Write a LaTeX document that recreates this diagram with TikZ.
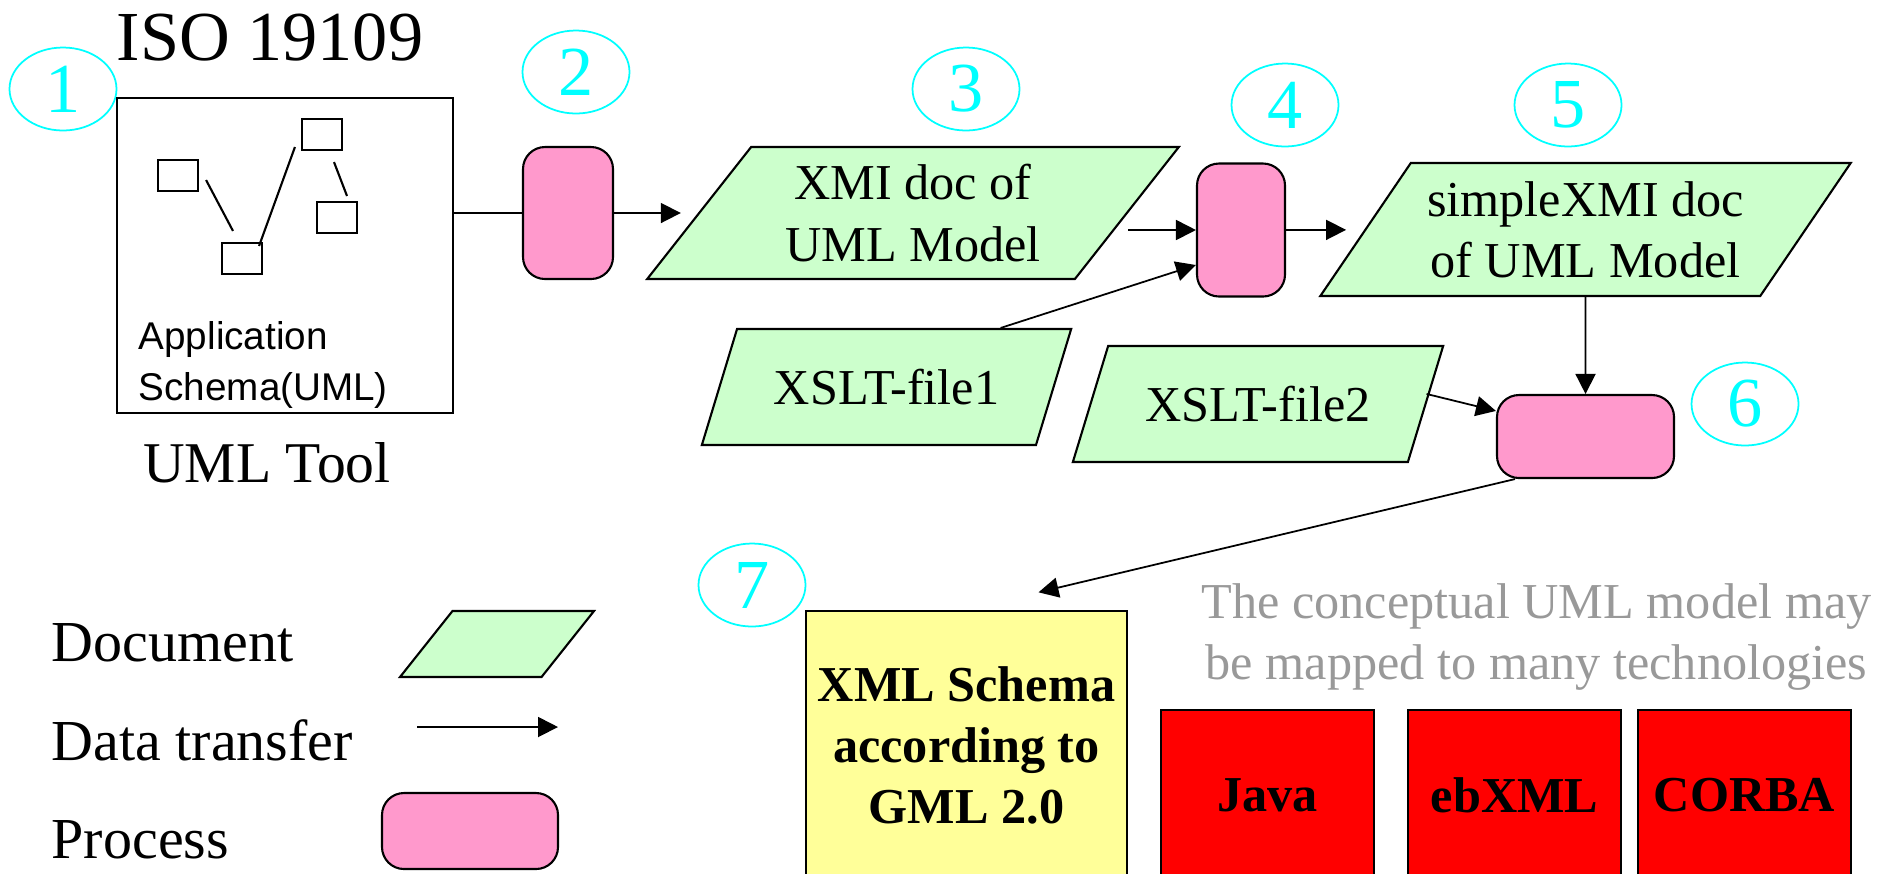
\documentclass[tikz,border=0pt]{standalone}
\usepackage{fontspec}
\setmainfont{Liberation Serif}
\newfontfamily\labelsans{Liberation Sans}
\usetikzlibrary{shapes.geometric,arrows.meta,positioning}
\definecolor{docgreen}{HTML}{CCFFCC}
\definecolor{procpink}{HTML}{FF99CC}
\definecolor{gmlyellow}{HTML}{FFFF99}
\definecolor{techred}{HTML}{FF0000}
\definecolor{numcyan}{HTML}{00FFFF}
\definecolor{notegrey}{HTML}{999999}

\begin{document}
\begin{tikzpicture}[x=0.1mm, y=-0.1mm,
  num/.style = {ellipse, draw=numcyan, text=numcyan, line width=0.5pt, minimum width=10.7mm, minimum height=8.3mm, inner sep=0pt, font=\fontsize{20}{20}\selectfont},
  proc/.style = {draw, rounded corners=2.2mm, fill=procpink, line width=0.6pt},
  doc/.style 2 args = {draw, trapezium, trapezium left angle=#1, trapezium right angle=#2, trapezium stretches=true, fill=docgreen, line width=0.6pt, align=center, inner sep=1pt, font=\fontsize{14.3}{17.4}\selectfont},
  cls/.style = {draw, minimum width=4mm, minimum height=3.1mm, inner sep=0pt, line width=0.6pt},
  tech/.style = {draw, fill=techred, minimum width=21.3mm, minimum height=17mm, font=\bfseries\fontsize{14.3}{17}\selectfont},
  legend/.style = {anchor=base west, inner sep=0pt, font=\fontsize{16.5}{16.5}\selectfont},
  flow/.style = {-{Triangle[length=2mm,width=2mm]}, line width=0.5pt}]
    \useasboundingbox (0,0) rectangle (1890,873);
    \clip (0,0) rectangle (1890,873);
    % UML tool
    \node (iso) [anchor=base, font=\fontsize{20}{20}\selectfont] at (270,60) {ISO 19109};
    \node[num] (n1) at (63,89) {1};
    \node (tool) [draw, minimum width=33.6mm, minimum height=31.5mm, line width=0.7pt] at (285,255.5) {};
    \node[cls] (c1) at (178,175.5) {};
    \node[cls] (c2) at (322,134.5) {};
    \node[cls] (c3) at (337,217.5) {};
    \node[cls] (c4) at (242,258.5) {};
    \draw[line width=0.6pt] ([xshift=0.7mm, yshift=-0.45mm]c1.east) -- ([xshift=-0.9mm, yshift=1.1mm]c4.north);
    \draw[line width=0.6pt] ([xshift=-0.4mm, yshift=-0.4mm]c4.north east) -- ([xshift=-0.6mm, yshift=-1.25mm]c2.west);
    \draw[line width=0.6pt] ([xshift=1.2mm, yshift=-1.1mm]c2.south) -- ([xshift=1mm, yshift=0.5mm]c3.north);
    \node (app) [anchor=west, align=left, inner sep=0pt, font=\labelsans\fontsize{11}{14.5}\selectfont] at (138,365) {Application\\Schema(UML)};
    \node (umltool) [anchor=base, font=\fontsize{16.4}{16.4}\selectfont] at (267,482) {UML Tool};
    % pipeline
    \node[proc, minimum width=9mm, minimum height=13.2mm] (p2) at (568,213) {};
    \node[num] (n2) at (576,72) {2};
    \node[doc={51}{129}, minimum width=53.2mm, minimum height=13.2mm] (xmi) at (913,213) {XMI doc of\\UML Model};
    \node[num] (n3) at (966,89) {3};
    \node[proc, minimum width=8.8mm, minimum height=13.3mm] (p4) at (1241,230) {};
    \node[num] (n4) at (1285,105) {4};
    \node[doc={57.5}{122.5}, minimum width=37.1mm, minimum height=11.6mm] (xslt1) at (886.5,387) {XSLT-file1};
    \node[doc={51}{129}, minimum width=53.1mm, minimum height=13.3mm] (sxmi) at (1585.5,229.5) {simpleXMI doc\\of UML Model};
    \node[num] (n5) at (1568,105) {5};
    \node[doc={57.5}{122.5}, minimum width=37.2mm, minimum height=11.6mm] (xslt2) at (1258,404) {XSLT-file2};
    \node[proc, minimum width=17.7mm, minimum height=8.3mm] (p6) at (1585.5,436.5) {};
    \node[num] (n6) at (1745,404) {6};
    \draw[line width=0.5pt] (tool.east |- p2) -- (p2);
    \draw[flow, shorten >=1.7mm] (p2) -- (xmi);
    \draw[flow] (xmi.east |- p4) -- (p4);
    \draw[flow] ([xshift=-7.2mm]xslt1.top right corner) -- ([yshift=-3.5mm]p4.west);
    \draw[flow, shorten >=1.8mm] (p4) -- (sxmi);
    \draw[flow] (sxmi) -- (p6);
    \draw[flow] ([xshift=-1.8mm, yshift=-4.9mm]xslt2.top right corner) -- ([yshift=-1.7mm]p6.north west);
    % output
    \node[num] (n7) at (752,585) {7};
    \node (gml) [draw, fill=gmlyellow, minimum width=31.9mm, minimum height=26.9mm, align=center, font=\bfseries\fontsize{14.3}{17.4}\selectfont] at (966.5,745.5) {XML Schema\\according to\\GML 2.0};
    \draw[flow] ([xshift=1.9mm]p6.south west) -- ([xshift=7.2mm, yshift=1.8mm]gml.north);
    \node (note) [text=notegrey, align=center, font=\fontsize{14.3}{17.1}\selectfont] at (1536.5,637) {The conceptual UML model may\\be mapped to many technologies};
    \node[tech] (java) at (1267.5,795) {Java};
    \node[tech] (ebxml) at (1514.5,795) {ebXML};
    \node[tech] (corba) at (1744.5,795) {CORBA};
    % legend
    \node[legend] (ldoc) at (51,661) {Document};
    \node[legend] (lflow) at (51,760) {Data transfer};
    \node[legend] (lproc) at (51,858) {Process};
    \node[doc={59.5}{120.5}, minimum width=19.4mm, minimum height=6.6mm] (legdoc) at (497,644) {};
    \coordinate (la) at (417,727);
    \coordinate (lb) at (558,727);
    \draw[flow] (la) -- (lb);
    \node[proc, minimum width=17.6mm, minimum height=7.6mm] (legproc) at (470,831) {};
\end{tikzpicture}
\end{document}
